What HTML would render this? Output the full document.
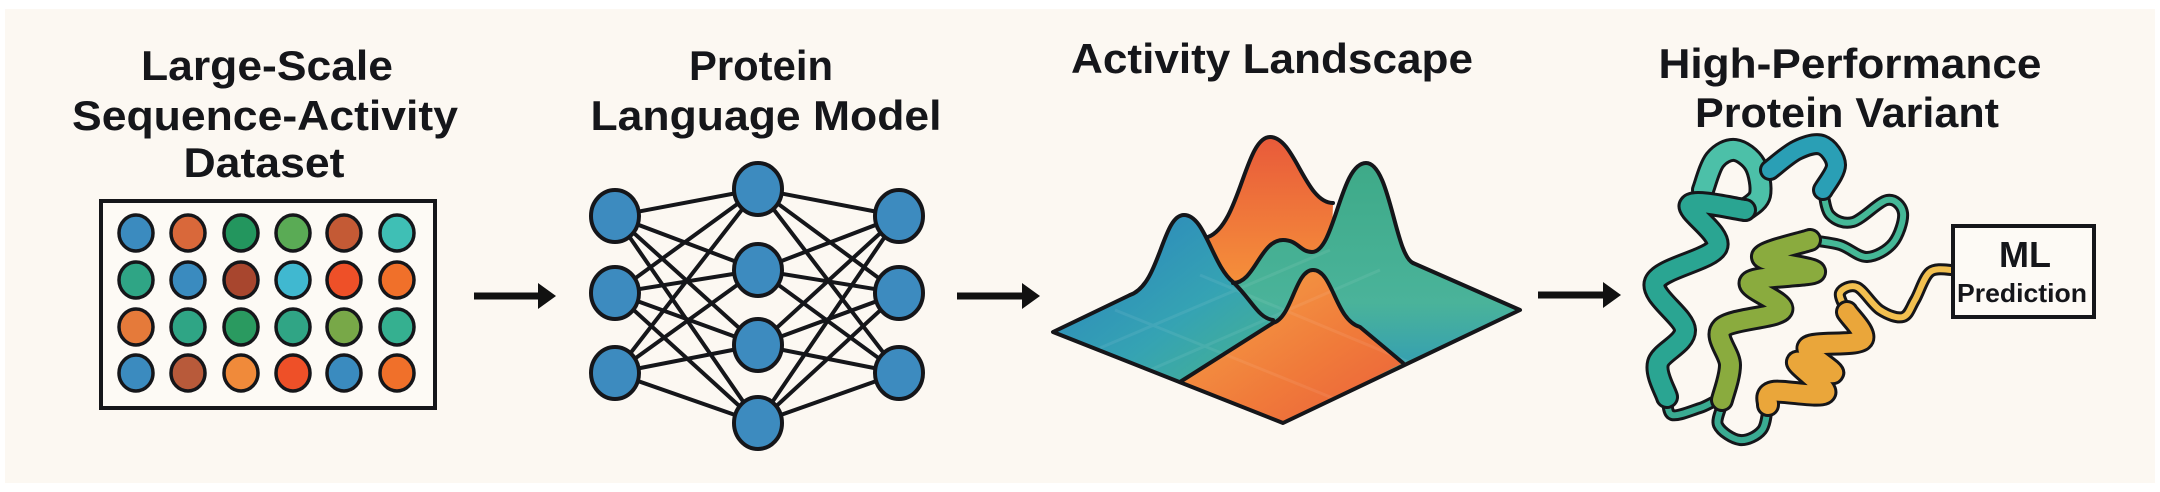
<!DOCTYPE html>
<html><head><meta charset="utf-8">
<style>
html,body{margin:0;padding:0;background:#fff;}
svg{display:block;}
text{font-family:"Liberation Sans","DejaVu Sans",sans-serif;font-weight:bold;fill:#15161a;}
</style></head>
<body>
<svg id="fig" width="2160" height="492" viewBox="0 0 2160 492" xmlns="http://www.w3.org/2000/svg">
<defs>
  <linearGradient id="gBase" x1="0" y1="0" x2="1" y2="0">
    <stop offset="0" stop-color="#2f88bf"/><stop offset="0.35" stop-color="#36a6b0"/><stop offset="0.7" stop-color="#4cb38e"/><stop offset="1" stop-color="#2a8cc0"/>
  </linearGradient>
  <linearGradient id="gOrangeBack" x1="0" y1="0" x2="0" y2="1">
    <stop offset="0" stop-color="#e85a3a"/><stop offset="1" stop-color="#f7963a"/>
  </linearGradient>
  <linearGradient id="gGreen" x1="0" y1="0" x2="0" y2="1">
    <stop offset="0" stop-color="#3eaa88"/><stop offset="0.7" stop-color="#4ab39a"/><stop offset="1" stop-color="#36a0b0"/>
  </linearGradient>
  <linearGradient id="gBlue" x1="0" y1="0" x2="1" y2="1">
    <stop offset="0" stop-color="#2a80bf"/><stop offset="0.6" stop-color="#35a3b3"/><stop offset="1" stop-color="#48b38e"/>
  </linearGradient>
  <linearGradient id="gFront" x1="0" y1="0" x2="1" y2="1">
    <stop offset="0" stop-color="#f5a548"/><stop offset="0.6" stop-color="#f07a3a"/><stop offset="1" stop-color="#ea5f3a"/>
  </linearGradient>
</defs>
<rect x="5" y="9" width="2150" height="474" fill="#fcf8f2"/>

<g>
  <text x="267" y="80" font-size="42" text-anchor="middle" textLength="252" lengthAdjust="spacingAndGlyphs">Large-Scale</text>
  <text x="265" y="130" font-size="42" text-anchor="middle" textLength="386" lengthAdjust="spacingAndGlyphs">Sequence-Activity</text>
  <text x="264" y="177" font-size="42" text-anchor="middle" textLength="161" lengthAdjust="spacingAndGlyphs">Dataset</text>
  <text x="761" y="80" font-size="42" text-anchor="middle" textLength="144" lengthAdjust="spacingAndGlyphs">Protein</text>
  <text x="766" y="130" font-size="42" text-anchor="middle" textLength="351" lengthAdjust="spacingAndGlyphs">Language Model</text>
  <text x="1272" y="73" font-size="42" text-anchor="middle" textLength="402" lengthAdjust="spacingAndGlyphs">Activity Landscape</text>
  <text x="1850" y="78" font-size="42" text-anchor="middle" textLength="383" lengthAdjust="spacingAndGlyphs">High-Performance</text>
  <text x="1847" y="127" font-size="42" text-anchor="middle" textLength="304" lengthAdjust="spacingAndGlyphs">Protein Variant</text>
</g>

<rect x="101" y="201" width="334" height="207" fill="#fdfaf5" stroke="#15161a" stroke-width="4"/>
<g id="dots"></g>
<g id="arrows"></g>
<g id="net"></g>

<g stroke-linejoin="round">
  <path d="M1053 332 L1285 218 L1520 310 L1283 423 Z" fill="url(#gBase)"/>
  <path d="M1208 237 C1240 225 1245 137 1270 137 C1295 137 1305 203 1333 203 L1330 300 L1215 300 Z" fill="url(#gOrangeBack)"/>
  <path d="M1233 283 C1255 283 1260 240 1283 240 C1298 240 1300 252 1312 252 C1335 252 1340 163 1366 163 C1390 163 1395 255 1413 263 L1520 310 L1403 363 L1273 323 Z" fill="url(#gGreen)"/>
  <path d="M1053 332 L1130 295 C1160 285 1162 215 1184 215 C1205 215 1212 265 1233 282 C1252 300 1258 318 1273 320 L1180 382 Z" fill="url(#gBlue)"/>
  <path d="M1180 382 L1273 323 C1292 318 1295 270 1313 270 C1333 270 1335 320 1360 327 L1403 363 L1283 423 Z" fill="url(#gFront)"/>
  <path d="M1100 348 L1330 250 M1150 370 L1380 270 M1115 310 L1350 405 M1200 275 L1440 375" stroke="#ffffff" stroke-opacity="0.07" stroke-width="3" fill="none"/>
  <g fill="none" stroke="#15161a" stroke-width="4" stroke-linecap="round">
    <path d="M1130 295 L1053 332 L1283 423 L1520 310 L1413 263"/>
    <path d="M1208 237 C1240 225 1245 137 1270 137 C1295 137 1305 203 1333 203"/>
    <path d="M1233 283 C1255 283 1260 240 1283 240 C1298 240 1300 252 1312 252 C1335 252 1340 163 1366 163 C1390 163 1395 255 1413 263"/>
    <path d="M1130 295 C1160 285 1162 215 1184 215 C1205 215 1212 265 1233 282 C1252 300 1258 318 1273 320"/>
    <path d="M1180 382 L1273 323 C1292 318 1295 270 1313 270 C1333 270 1335 320 1360 327 L1403 363"/>
  </g>
</g>

<g id="protein"></g>

<g>
  <rect x="1953" y="226" width="141" height="91" fill="#fdfaf5" stroke="#15161a" stroke-width="4"/>
  <text x="2025" y="267" font-size="36" text-anchor="middle" textLength="52" lengthAdjust="spacingAndGlyphs">ML</text>
  <text x="2022" y="302" font-size="26" text-anchor="middle" textLength="130" lengthAdjust="spacingAndGlyphs">Prediction</text>
</g>
</svg>
<script>
const NS = "http://www.w3.org/2000/svg";
const dotColors = [
  ["#3b8bbf","#d9683a","#23965e","#5aab55","#c45a35","#3fbfb5"],
  ["#2fa585","#3a8bbf","#a8462e","#40b8d0","#ee5028","#f0702a"],
  ["#e57a3a","#2fa585","#2a9a60","#30a585","#78a848","#35b090"],
  ["#3b8bbf","#b85a3a","#f08a3a","#ee5028","#3a8bbf","#f0702a"]
];
const dotColX = [136,188,241,293,344,397];
const dotRowY = [233,280,327,373];
const layerX = [615, 758, 899];
const layerNodes = [[216,293,373],[189,270,345,423],[216,293,373]];
const arrowX1 = [474, 957, 1538];
const arrowX2 = [556, 1040, 1621];
const arrowY = [296, 296, 295];

function mk(tag, attrs, parent){
  const e = document.createElementNS(NS, tag);
  for (const k in attrs) e.setAttribute(k, attrs[k]);
  parent.appendChild(e); return e;
}

const dots = document.getElementById('dots');
dotColors.forEach((row, r) => row.forEach((c, ci) => {
  const e = mk('ellipse', {cx: dotColX[ci], cy: dotRowY[r], rx: 17, ry: 18, fill: c, stroke: '#15161a', 'stroke-width': 3.5}, dots);
  
  
}));

const arrows = document.getElementById('arrows');
arrowX1.forEach((x1, i) => {
  const x2 = arrowX2[i], y = arrowY[i];
  const g = mk('g', {}, arrows);
  
  
  mk('rect', {x: x1, y: y - 3.5, width: x2 - x1 - 14, height: 7, fill: '#111'}, g);
  mk('polygon', {points: `${x2-18},${y-13} ${x2},${y} ${x2-18},${y+13}`, fill: '#111'}, g);
});

const net = document.getElementById('net');
const edges = mk('g', {stroke: '#15161a', 'stroke-width': 4}, net);
for (let l = 0; l < layerX.length - 1; l++) {
  layerNodes[l].forEach(ya => layerNodes[l+1].forEach(yb => {
    const e = mk('line', {x1: layerX[l], y1: ya, x2: layerX[l+1], y2: yb}, edges);
    
    
  }));
}
layerNodes.forEach((nodes, l) => nodes.forEach(y => {
  const e = mk('ellipse', {cx: layerX[l], cy: y, rx: 24, ry: 26, fill: '#3d8bbf', stroke: '#15161a', 'stroke-width': 4}, net);
  
  
}));

function cr(pts){
  let d = `M${pts[0][0]} ${pts[0][1]}`;
  for (let i = 0; i < pts.length - 1; i++) {
    const p0 = pts[Math.max(i-1,0)], p1 = pts[i], p2 = pts[i+1], p3 = pts[Math.min(i+2, pts.length-1)];
    const c1 = [p1[0] + (p2[0]-p0[0])/6, p1[1] + (p2[1]-p0[1])/6];
    const c2 = [p2[0] - (p3[0]-p1[0])/6, p2[1] - (p3[1]-p1[1])/6];
    d += ` C${c1[0]} ${c1[1]} ${c2[0]} ${c2[1]} ${p2[0]} ${p2[1]}`;
  }
  return d;
}
const prot = document.getElementById('protein');
const segs = [
  {name:'tail-loop', w:6, c:'#f2c050', pts:[[1953,270],[1930,272],[1915,300],[1903,317],[1880,310],[1857,287],[1840,293],[1847,312]]},
  {name:'right-loop', w:6, c:'#45b897', pts:[[1823,190],[1830,215],[1853,222],[1887,200],[1903,213],[1893,243],[1867,257],[1840,245],[1810,240]]},
  {name:'bottom-loop', w:6, c:'#3aab92', pts:[[1667,397],[1672,415],[1700,408],[1722,400],[1718,425],[1740,440],[1762,430],[1768,405]]},
  {name:'top-helix', w:18, c:'#4cc0a8', pts:[[1703,190],[1715,160],[1735,150],[1755,165],[1760,195],[1745,210]]},
  {name:'top-right-helix', w:16, c:'#2a9fb5', pts:[[1770,170],[1797,150],[1822,145],[1836,165],[1823,190]]},
  {name:'left-helix', w:18, c:'#2aa592', pts:[[1745,210],[1690,205],[1717,247],[1655,282],[1685,330],[1658,363],[1667,397]]},
  {name:'middle-helix', w:18, c:'#8aab3e', pts:[[1810,240],[1762,257],[1815,272],[1750,282],[1782,310],[1722,328],[1730,365],[1722,400]]},
  {name:'orange-helix', w:18, c:'#eaa63a', pts:[[1847,312],[1862,340],[1808,347],[1833,373],[1797,362],[1825,393],[1773,392],[1768,405]]}
];
segs.forEach(s => {
  const g = mk('g', {fill: 'none', 'stroke-linecap': 'round', 'stroke-linejoin': 'round'}, prot);
  
  
  const d = cr(s.pts);
  mk('path', {d, stroke: '#15161a', 'stroke-width': s.w + 6}, g);
  mk('path', {d, stroke: s.c, 'stroke-width': s.w}, g);
});
</script>
</body></html>
